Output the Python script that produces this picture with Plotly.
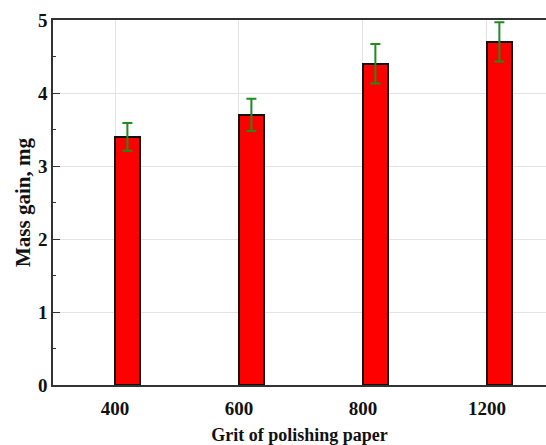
import plotly.graph_objects as go

categories = ["400", "600", "800", "1200"]
mass_gain = [3.4, 3.7, 4.4, 4.7]
mass_err = [0.19, 0.22, 0.27, 0.27]

positions = list(range(len(categories)))
bar_w = 0.2
bar_centers = [p + bar_w / 2 for p in positions]

font_family = "Liberation Serif, Times New Roman, serif"

fig = go.Figure()
fig.add_trace(go.Bar(
    x=positions, y=mass_gain, width=bar_w, offset=0,
    marker=dict(color="#ff0000", line=dict(color="#111111", width=2)),
    showlegend=False,
))
fig.add_trace(go.Scatter(
    x=bar_centers, y=mass_gain, mode="markers",
    marker=dict(size=1, color="rgba(0,0,0,0)"),
    error_y=dict(type="data", array=mass_err, visible=True,
                 color="#1e8c1e", thickness=2, width=5),
    showlegend=False,
))

fig.update_layout(
    width=546, height=445,
    margin=dict(l=53, r=0, t=20, b=60),
    plot_bgcolor="white", paper_bgcolor="white",
    font=dict(family=font_family, color="#111111"),
    bargap=0,
)
fig.update_xaxes(
    range=[-0.5, 3.476],
    tickvals=positions, ticktext=categories,
    tickfont=dict(size=19, family=font_family, weight="bold"),
    showgrid=True, gridcolor="#e3e3e3", gridwidth=1,
    showline=True, linecolor="#333333", linewidth=1.5, mirror=True,
    ticks="", ticklabelstandoff=5,
    zeroline=False,
    title=dict(text="Grit of polishing paper",
               font=dict(size=18, family=font_family, weight="bold"),
               standoff=11),
)
fig.update_yaxes(
    range=[0, 5], dtick=1,
    tickfont=dict(size=19, family=font_family, weight="bold"),
    showgrid=True, gridcolor="#e3e3e3", gridwidth=1,
    showline=True, linecolor="#333333", linewidth=1.5, mirror=False,
    ticks="inside", ticklen=7, tickwidth=1.2, tickcolor="#333333",
    minor=dict(ticks="inside", dtick=0.5, ticklen=3, tickwidth=1.2,
               tickcolor="#333333", showgrid=False),
    zeroline=False,
    title=dict(text="Mass gain, mg",
               font=dict(size=21, family=font_family, weight="bold"),
               standoff=2),
)

fig.write_html("out.html")
